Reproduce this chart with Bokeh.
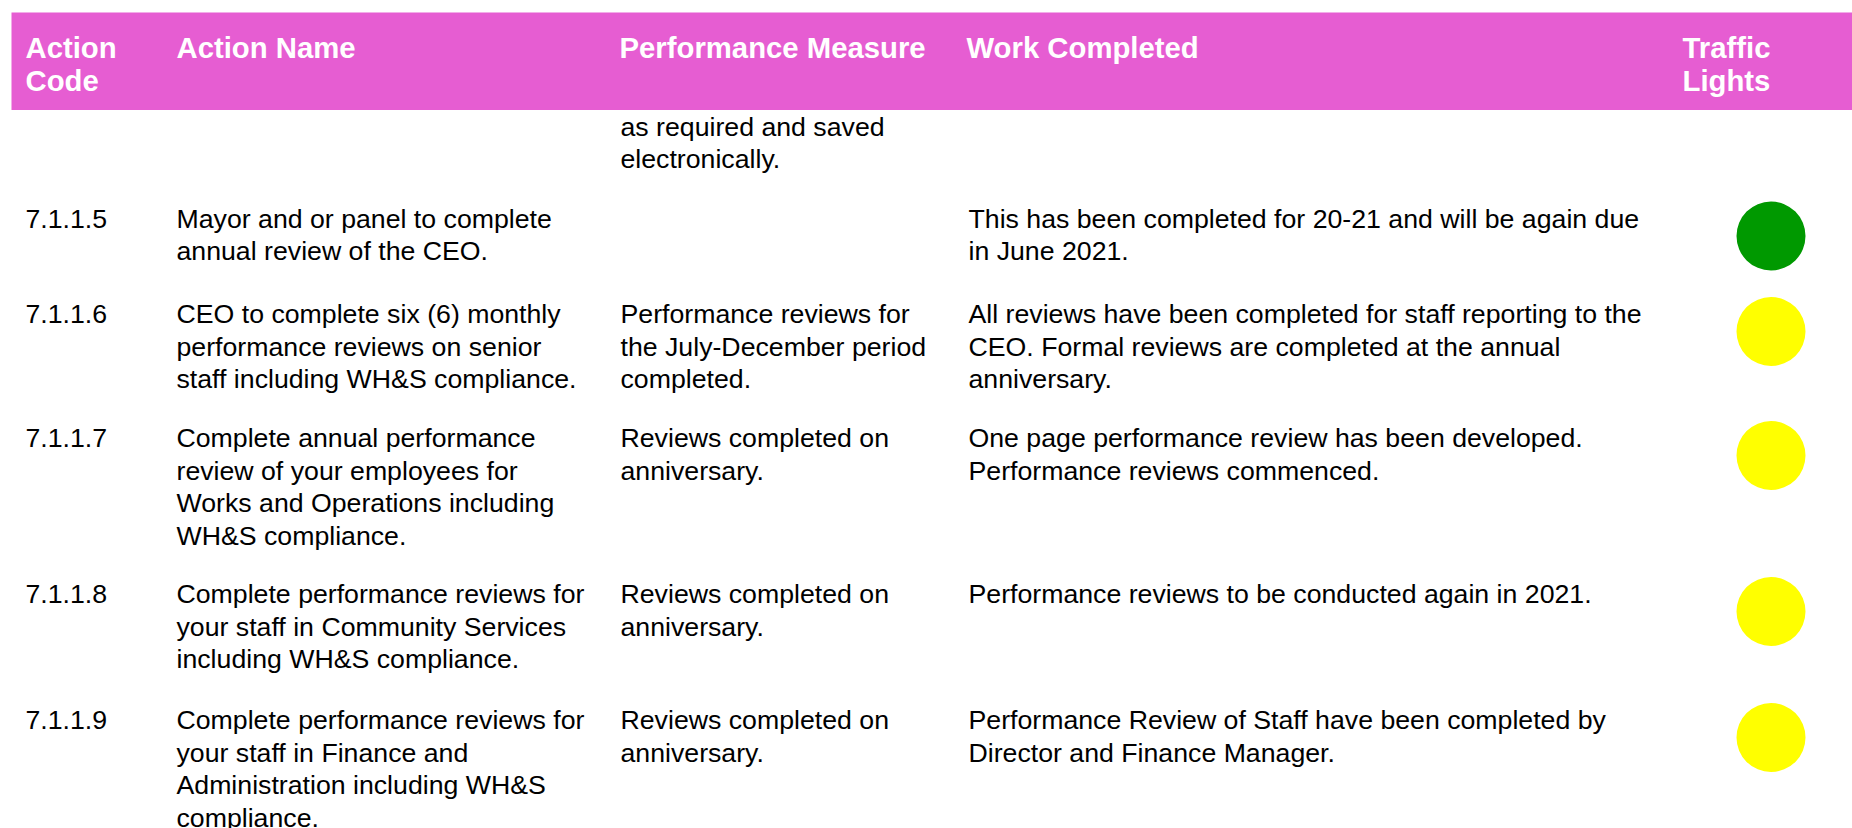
from bokeh.plotting import figure
from bokeh.models import Range1d, ColumnDataSource
from bokeh.core.properties import value
from bokeh.embed import file_html
from bokeh.resources import INLINE

# ---------------- data ----------------
header_labels = ["Action\nCode", "Action Name", "Performance Measure", "Work Completed", "Traffic\nLights"]

action_codes = ["", "7.1.1.5", "7.1.1.6", "7.1.1.7", "7.1.1.8", "7.1.1.9"]

action_names = [
    "",
    "Mayor and or panel to complete\nannual review of the CEO.",
    "CEO to complete six (6) monthly\nperformance reviews on senior\nstaff including WH&S compliance.",
    "Complete annual performance\nreview of your employees for\nWorks and Operations including\nWH&S compliance.",
    "Complete performance reviews for\nyour staff in Community Services\nincluding WH&S compliance.",
    "Complete performance reviews for\nyour staff in Finance and\nAdministration including WH&S\ncompliance.",
]

performance_measures = [
    "as required and saved\nelectronically.",
    "",
    "Performance reviews for\nthe July-December period\ncompleted.",
    "Reviews completed on\nanniversary.",
    "Reviews completed on\nanniversary.",
    "Reviews completed on\nanniversary.",
]

work_completed = [
    "",
    "This has been completed for 20-21 and will be again due\nin June 2021.",
    "All reviews have been completed for staff reporting to the\nCEO. Formal reviews are completed at the annual\nanniversary.",
    "One page performance review has been developed.\nPerformance reviews commenced.",
    "Performance reviews to be conducted again in 2021.",
    "Performance Review of Staff have been completed by\nDirector and Finance Manager.",
]

traffic_lights = ["", "green", "yellow", "yellow", "yellow", "yellow"]

# ---------------- layout / style ----------------
LIGHT_COLORS = {"green": "#009900", "yellow": "#FFFF00"}
HEADER_COLOR = "#E65DD2"
FONT = "Liberation Sans"
BODY_SIZE = "26.7px"
HEAD_SIZE = "29.3px"

W, H = 1852, 828

HEAD_X = [25, 176, 619, 966, 1682]
COL_X = [25, 176, 620, 968]
HEAD_Y = 47
HEAD_LINE = 33
ROW_Y = [126, 218, 313.5, 437.5, 593.5, 719.5]
LINE_H = 32.6
LIGHT_X = 1770.5
LIGHT_DY = 17.5
LIGHT_D = 69

p = figure(width=W, height=H,
           x_range=Range1d(0, W), y_range=Range1d(H, 0),
           x_axis_type=None, y_axis_type=None,
           output_backend="svg", toolbar_location=None, min_border=0)
p.grid.visible = False
p.outline_line_color = None
p.background_fill_color = "white"
p.border_fill_color = "white"

# header bar
p.quad(left=[11], right=[W + 10], top=[12], bottom=[109.5], fill_color=HEADER_COLOR, line_color=None)

hx, hy, ht = [], [], []
for x, lab in zip(HEAD_X, header_labels):
    for k, line in enumerate(lab.split("\n")):
        hx.append(x); hy.append(HEAD_Y + k * HEAD_LINE); ht.append(line)
p.text(x="x", y="y", text="t", source=ColumnDataSource(dict(x=hx, y=hy, t=ht)),
       text_font=value(FONT), text_font_size=value(HEAD_SIZE), text_font_style="bold",
       text_color="white", text_align="left", text_baseline="alphabetic")

# body text
bx, by, bt = [], [], []
columns = [action_codes, action_names, performance_measures, work_completed]
for ci, col in enumerate(columns):
    for ri, cell in enumerate(col):
        if not cell:
            continue
        for k, line in enumerate(cell.split("\n")):
            bx.append(COL_X[ci]); by.append(ROW_Y[ri] + k * LINE_H); bt.append(line)
p.text(x="x", y="y", text="t", source=ColumnDataSource(dict(x=bx, y=by, t=bt)),
       text_font=value(FONT), text_font_size=value(BODY_SIZE),
       text_color="black", text_align="left", text_baseline="alphabetic")

# traffic lights
lx, ly, lc = [], [], []
for ri, light in enumerate(traffic_lights):
    if light:
        lx.append(LIGHT_X); ly.append(ROW_Y[ri] + LIGHT_DY); lc.append(LIGHT_COLORS[light])
p.scatter(x="x", y="y", color="c", size=LIGHT_D, marker="circle", line_color=None,
          source=ColumnDataSource(dict(x=lx, y=ly, c=lc)))

open("out.html", "w").write(file_html(p, INLINE))
